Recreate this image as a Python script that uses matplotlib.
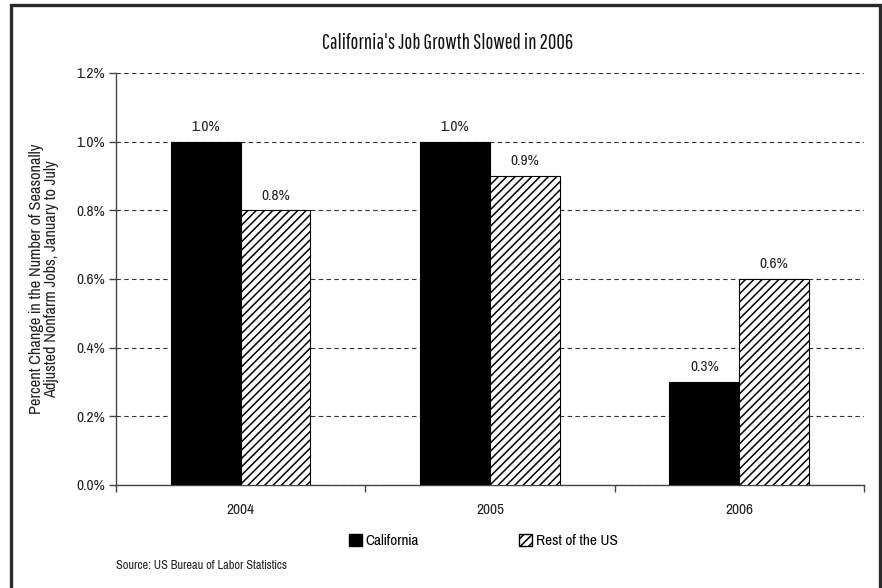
import numpy as np
import matplotlib
matplotlib.use("Agg")
import matplotlib.pyplot as plt
import matplotlib.patches as mpatches
from matplotlib.ticker import FuncFormatter, FixedLocator

plt.rcParams['font.family'] = ['Pragati Narrow', 'PT Sans Narrow', 'Archivo Narrow', 'DejaVu Sans']
plt.rcParams['hatch.linewidth'] = 1.1

# data
years = ['2004', '2005', '2006']
california = [1.0, 1.0, 0.3]
rest_of_us = [0.8, 0.9, 0.6]
series_names = ['California', 'Rest of the US']

fig = plt.figure(figsize=(8.82, 5.88), dpi=100)
ax = fig.add_axes([0.1315, 0.1752, 0.848, 0.7007])

x = np.arange(len(years))
w = 0.28
b1 = ax.bar(x - w / 2, california, w, color='black', edgecolor='black', linewidth=0.8, zorder=3)
b2 = ax.bar(x + w / 2, rest_of_us, w, color='white', edgecolor='black', hatch='////',
            linewidth=0.8, zorder=3)

# value labels
for bars, vals in ((b1, california), (b2, rest_of_us)):
    for rect, v in zip(bars, vals):
        ax.text(rect.get_x() + rect.get_width() / 2, v + 0.022, '%.1f%%' % v,
                ha='center', va='bottom', fontsize=12, color='#222222')

ax.set_xlim(-0.5, 2.5)
ax.set_ylim(0, 1.2)
ax.set_yticks(np.arange(0, 1.21, 0.2))
ax.yaxis.set_major_formatter(FuncFormatter(lambda v, p: '%.1f%%' % v))
ax.set_xticks(x)
ax.set_xticklabels(years)
ax.xaxis.set_minor_locator(FixedLocator([-0.5, 0.5, 1.5, 2.5]))
ax.tick_params(axis='x', which='major', length=0, pad=13, labelsize=12, labelcolor='#222222')
ax.tick_params(axis='x', which='minor', length=5, width=1, color='#444444', direction='out')
ax.tick_params(axis='y', length=5, width=1, color='#444444', direction='out', labelsize=12,
               labelcolor='#222222', pad=3)

for s in ('top', 'right'):
    ax.spines[s].set_visible(False)
for s in ('left', 'bottom'):
    ax.spines[s].set_color('#444444')
    ax.spines[s].set_linewidth(1.0)

ax.yaxis.grid(True, color='#333333', linestyle=(0, (4, 3)), linewidth=0.8, zorder=0)
ax.set_axisbelow(True)

ax.set_ylabel('Percent Change in the Number of Seasonally\nAdjusted Nonfarm Jobs, January to July',
              fontsize=12.8, color='#222222', labelpad=12, linespacing=1.0)

fig.text(0.508, 0.927, "California's Job Growth Slowed in 2006", ha='center', va='center',
         fontsize=15, color='#111111', family=['Pathway Gothic One', 'Barlow Condensed', 'DejaVu Sans'])

handles = [mpatches.Patch(facecolor='black', edgecolor='black', label=series_names[0]),
           mpatches.Patch(facecolor='white', edgecolor='black', hatch='////', label=series_names[1])]
fig.legend(handles=handles, loc='center', bbox_to_anchor=(0.548, 0.080), ncol=2, frameon=False,
           fontsize=12, handlelength=0.75, handleheight=0.75, handletextpad=0.25, columnspacing=6.0)

fig.text(0.131, 0.039, 'Source: US Bureau of Labor Statistics', ha='left', va='center',
         fontsize=9.7, color='#222222')

# outer frame
frame = mpatches.Rectangle((11 / 882, -0.05), 869 / 882, 1.05 - 5 / 588, transform=fig.transFigure,
                           fill=False, edgecolor='#2a2a2a', linewidth=2.4, clip_on=False)
fig.patches.append(frame)

fig.savefig('out.png', dpi=100)
